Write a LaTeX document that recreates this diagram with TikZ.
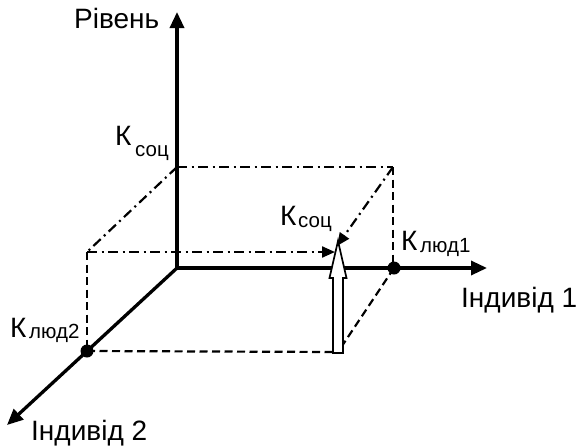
\documentclass[tikz,border=0pt]{standalone}
\usepackage{fontspec}
\setmainfont{Liberation Sans}
\usetikzlibrary{arrows.meta}
\begin{document}
\begin{tikzpicture}[x=1pt,y=-1pt,
  axis/.style={line width=3.3pt,-{Triangle[length=16pt,width=14pt]}},
  dashln/.style={line width=2.2pt,dash pattern=on 8pt off 4.5pt},
  dotdash/.style={line width=2.2pt,dash pattern=on 10pt off 4.5pt on 2pt off 4.5pt},
  smallarrow/.style={-{Triangle[length=13pt,width=11pt]}},
  lbl/.style={inner sep=0pt,anchor=base west,font=\fontsize{28}{30}\selectfont},
  sub/.style={inner sep=0pt,anchor=base west,font=\fontsize{20.5}{22}\selectfont},
  dotpt/.style={circle,fill=black,inner sep=0pt,minimum size=13pt}]
\useasboundingbox (0,0) rectangle (578,447);
% coordinates
\coordinate (O) at (177,268);
\coordinate (ytip) at (177,12);
\coordinate (xtip) at (487,268);
\coordinate (ztip) at (7,425);
\coordinate (T0) at (177,167);
\coordinate (T1) at (393,167);
\coordinate (T2) at (87,252);
\coordinate (B2) at (87,351);
\coordinate (B3) at (338,352);
\coordinate (A1) at (335,252);
\coordinate (A2) at (337,246);
% box lines
\draw[dotdash] (T0) -- (T1);
\draw[dotdash] (T0) -- (T2);
\draw[dashln] (T1) -- (393,268);
\draw[dashln] (T2) -- (B2);
\draw[dashln] (B2) -- (B3);
\draw[dashln] (394,268) -- (B3);
\draw[dotdash,smallarrow] (T2) -- (A1);
\draw[dotdash,smallarrow] (T1) -- (A2);
% axes
\draw[axis] (O) -- (ytip);
\draw[axis] (O) -- (xtip);
\draw[axis] (O) -- (ztip);
% points
\node[dotpt] (K1) at (394,268) {};
\node[dotpt] (K2) at (87,351) {};
% hollow arrow
\draw[line width=1.7pt,fill=white,line join=miter]
  (333,353) -- (333,278) -- (329.5,278) -- (338,241) -- (346.5,278) -- (343,278) -- (343,353) -- cycle;
% labels
\node[lbl] (ry) at (74,28) {Рівень};
\node[lbl] (i1) at (461,307) {Індивід 1};
\node[lbl] (i2) at (31,440) {Індивід 2};
\node[lbl] (ks) at (115,145) {К};
\node[sub] (kss) at (135,156) {соц};
\node[lbl] (km) at (280,225) {К};
\node[sub] (kms) at (298,227) {соц};
\node[lbl] (kl1) at (401,250) {К};
\node[sub] (kl1s) at (420,252) {люд1};
\node[lbl] (kl2) at (10,337) {К};
\node[sub] (kl2s) at (29,338) {люд2};
\end{tikzpicture}
\end{document}
